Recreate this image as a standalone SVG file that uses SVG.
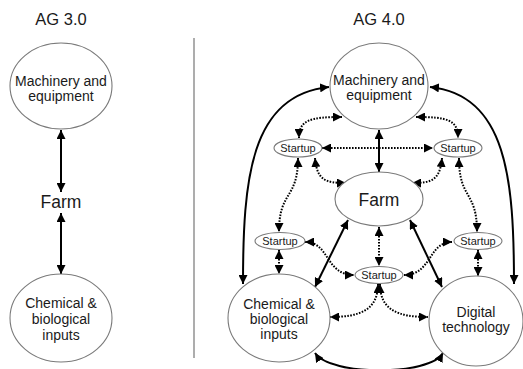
<svg xmlns="http://www.w3.org/2000/svg" width="523" height="369" viewBox="0 0 523 369">
<style>
.node{fill:#fff;stroke:#7a7a7a;stroke-width:1.1}
.t{font-family:"Liberation Sans",Arial,sans-serif;fill:#1a1a1a;text-anchor:middle}
.big{font-size:14px}
.farm{font-size:17.5px}
.su{font-size:11px}
.title{font-size:16.5px}
.solid{fill:none;stroke:#000;stroke-width:2;marker-start:url(#ah);marker-end:url(#ah)}
.dot{fill:none;stroke:#000;stroke-width:2;stroke-dasharray:1.6 1.4;marker-start:url(#ah);marker-end:url(#ah)}
</style>
<defs>
<marker id="ah" viewBox="0 0 10 10" refX="10" refY="5" markerWidth="9" markerHeight="9" markerUnits="userSpaceOnUse" orient="auto-start-reverse">
<path d="M0,0 L10,5 L0,10 z" fill="#000"/>
</marker>
</defs>
<rect width="523" height="369" fill="#fff"/>
<text class="t title" x="61" y="25">AG 3.0</text>
<text class="t title" x="379" y="25">AG 4.0</text>
<line x1="194" y1="38" x2="194" y2="358" stroke="#999" stroke-width="1.6"/>
<g id="connectors">
<path class="solid" d="M61 130 L61 192"/>
<path class="solid" d="M61 213 L61 274"/>
<path class="solid" d="M243 284 C243 180 250 95 329 87"/>
<path class="solid" d="M514 284 C514 180 507 95 430 87"/>
<path class="solid" d="M379 130 L379 172"/>
<path class="solid" d="M348 220 L315 287"/>
<path class="solid" d="M410 220 L442 287"/>
<path class="solid" d="M315 353 C330 376 430 376 443 353"/>
<path class="dot" d="M342 117 C310 117 299 120 299 138"/>
<path class="dot" d="M416 117 C448 117 458 120 458 138"/>
<path class="dot" d="M322 148 L433 148"/>
<path class="dot" d="M315 158 C317 180 325 183 346 183"/>
<path class="dot" d="M442 158 C440 180 432 183 412 183"/>
<path class="dot" d="M298 158 C298 200 279 190 279 232"/>
<path class="dot" d="M459 158 C459 200 477 190 477 232"/>
<path class="dot" d="M279 250 L279 274"/>
<path class="dot" d="M478 250 L478 276"/>
<path class="dot" d="M305 242 C330 242 325 275 354 275"/>
<path class="dot" d="M452 242 C428 242 432 275 404 275"/>
<path class="dot" d="M379 227 L379 266"/>
<path class="dot" d="M378 284 C378 310 360 317 330 317"/>
<path class="dot" d="M380 284 C380 310 398 317 428 317"/>
</g>
<g id="l-machinery">
<ellipse class="node" cx="61" cy="86" rx="51" ry="43"/>
<text class="t big" x="61" y="86">Machinery and</text>
<text class="t big" x="61" y="101">equipment</text>
</g>
<g id="l-farm">
<text class="t farm" x="61" y="208">Farm</text>
</g>
<g id="l-chemical">
<ellipse class="node" cx="61" cy="318" rx="51" ry="44"/>
<text class="t big" x="61" y="308">Chemical &amp;</text>
<text class="t big" x="61" y="324">biological</text>
<text class="t big" x="61" y="340">inputs</text>
</g>
<g id="r-machinery">
<ellipse class="node" cx="379" cy="86" rx="49" ry="43"/>
<text class="t big" x="379" y="85">Machinery and</text>
<text class="t big" x="379" y="100">equipment</text>
</g>
<g id="r-farm">
<ellipse class="node" cx="379" cy="199" rx="44" ry="27"/>
<text class="t farm" x="379" y="206">Farm</text>
</g>
<g id="r-chemical">
<ellipse class="node" cx="279" cy="318" rx="51" ry="44"/>
<text class="t big" x="279" y="309">Chemical &amp;</text>
<text class="t big" x="279" y="324">biological</text>
<text class="t big" x="279" y="339">inputs</text>
</g>
<g id="r-digital">
<ellipse class="node" cx="476" cy="321" rx="47" ry="45"/>
<text class="t big" x="476" y="317">Digital</text>
<text class="t big" x="476" y="332">technology</text>
</g>
<g id="startup-tl">
<ellipse class="node" cx="298" cy="148" rx="24" ry="9"/>
<text class="t su" x="298" y="152">Startup</text>
</g>
<g id="startup-tr">
<ellipse class="node" cx="458" cy="148" rx="24" ry="9"/>
<text class="t su" x="458" y="152">Startup</text>
</g>
<g id="startup-ml">
<ellipse class="node" cx="280" cy="241" rx="25" ry="8.5"/>
<text class="t su" x="280" y="245">Startup</text>
</g>
<g id="startup-mr">
<ellipse class="node" cx="478" cy="241" rx="24" ry="8.5"/>
<text class="t su" x="478" y="245">Startup</text>
</g>
<g id="startup-c">
<ellipse class="node" cx="379" cy="275" rx="24" ry="8.5"/>
<text class="t su" x="379" y="279">Startup</text>
</g>
</svg>
